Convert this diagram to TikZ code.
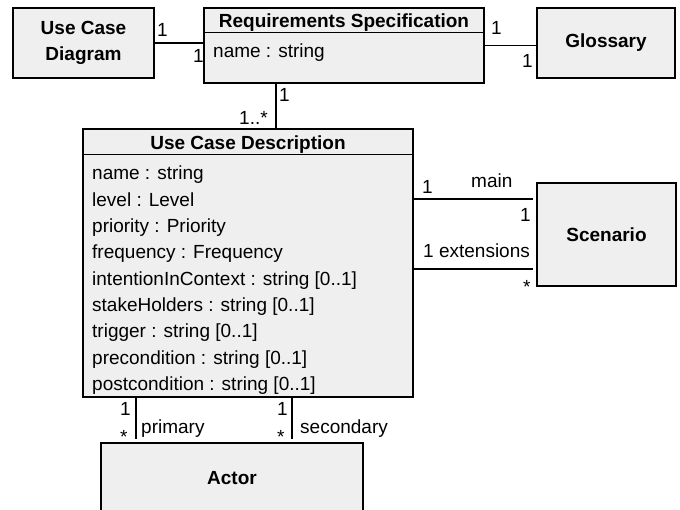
\documentclass[tikz,border=0pt]{standalone}
\usepackage{fontspec}
\setmainfont{Liberation Sans}
\usepackage{xcolor}
\usepackage{tikz}

\definecolor{boxgray}{HTML}{EFEFEF}
\newcommand{\umlfont}{\fontsize{19}{26.3}\selectfont}

\tikzset{
  classbox/.style={draw, line width=1.4pt, fill=boxgray, inner sep=0pt},
  classname/.style={font=\umlfont\bfseries, inner sep=0pt},
  attr/.style={anchor=base west, inner sep=0pt},
  mult/.style={anchor=base west, inner sep=0pt},
  link/.style={line width=1.2pt},
}

\begin{document}
\begin{tikzpicture}[x=1pt, y=-1pt, font=\umlfont]
   		\useasboundingbox (0,0) rectangle (680,510);

   		% classes
   		\node[classbox, classname, align=center, minimum width=141pt, minimum height=70pt] (ucdiag) at (83.5,43) {Use Case\\Diagram};
   		\node[classbox, minimum width=280pt, minimum height=75pt] (reqspec) at (344,45.5) {};
   		\node[classbox, classname, minimum width=138pt, minimum height=70pt] (glossary) at (606,43) {Glossary};
   		\node[classbox, minimum width=330pt, minimum height=268pt] (ucdesc) at (248,263) {};
   		\node[classbox, classname, minimum width=139pt, minimum height=103pt] (scenario) at (606.5,234.5) {Scenario};
   		\node[classbox, classname, minimum width=262pt, minimum height=70pt] (actor) at (232,478) {Actor};

   		% compartments
   		\draw[line width=1.4pt] ([yshift=-25pt]reqspec.north west) -- ([yshift=-25pt]reqspec.north east);
   		\node[classname, anchor=base] (reqspectitle) at (344,28) {Requirements Specification};
   		\node[attr] (reqspecname) at (213,58) {name : string};

   		\draw[line width=1.4pt] ([yshift=-26pt]ucdesc.north west) -- ([yshift=-26pt]ucdesc.north east);
   		\node[classname, anchor=base] (ucdesctitle) at (248,150) {Use Case Description};
   		\foreach \i/\attrtext in {
   			0/{name : string},
   			1/{level : Level},
   			2/{priority : Priority},
   			3/{frequency : Frequency},
   			4/{intentionInContext : string [0..1]},
   			5/{stakeHolders : string [0..1]},
   			6/{trigger : string [0..1]},
   			7/{precondition : string [0..1]},
   			8/{postcondition : string [0..1]}
   		}{
   			\node[attr] (ucattr\i) at (92,{180+26.3*\i}) {\attrtext};
   		}

   		% associations
   		\draw[link] (ucdiag.east) -- (ucdiag.east -| reqspec.west);
   		\draw[link] (reqspec.east) -- (reqspec.east -| glossary.west);
   		\coordinate (specdown) at ([xshift=-68pt]reqspec.south);
   		\draw[link] (specdown) -- (specdown |- ucdesc.north);
   		\draw[link, shorten <=3pt] ([yshift=35.5pt]scenario.west) -- ([yshift=35.5pt]scenario.west -| ucdesc.east);
   		\draw[link, shorten <=3pt] ([yshift=-34.5pt]scenario.west) -- ([yshift=-34.5pt]scenario.west -| ucdesc.east);
   		\coordinate (primtop) at ([xshift=-112pt]ucdesc.south);
   		\coordinate (sectop) at ([xshift=44pt]ucdesc.south);
   		\draw[link, shorten >=3pt] (primtop) -- (primtop |- actor.north);
   		\draw[link, shorten >=3pt] (sectop) -- (sectop |- actor.north);

   		% multiplicities and role names
   		\foreach \x/\y/\label [count=\n] in {
   			157/37/1, 193/63/1,
   			491/35/1, 522/68/1,
   			279/102/1, 239/125/1..*,
   			422/194/1, 471/188/main, 520/222/1,
   			423/258/1 extensions, 523/294/*,
   			120/416/1, 120/443/*, 141/433/primary,
   			277/416/1, 277/443/*, 300/433/secondary
   		}{
   			\node[mult] (mult\n) at (\x,\y) {\label};
   		}
   	\end{tikzpicture}
\end{document}
